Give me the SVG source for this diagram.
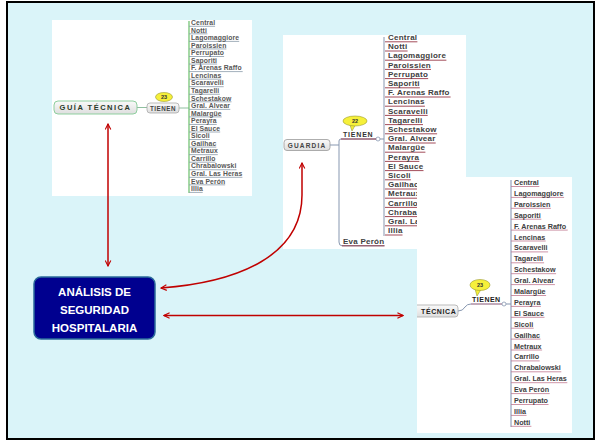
<svg xmlns="http://www.w3.org/2000/svg" width="597" height="442" viewBox="0 0 597 442">
<style>
text{font-family:"Liberation Sans",Arial,sans-serif;font-weight:bold}
.l1{font-size:6.8px;fill:#585858;letter-spacing:0.1px}
.l2{font-size:8px;fill:#404040;letter-spacing:0.25px}
.l3{font-size:7.2px;fill:#404040}
.arrow{fill:none;stroke:#c00000;stroke-width:1.5}
.card{fill:#fff}
.bub{fill:#f6f03a;stroke:#9a9a30;stroke-width:0.6}
.bubt{font-size:5.5px;fill:#333;text-anchor:middle}
.main{font-size:11.5px;fill:#fff;text-anchor:middle}
</style>
<defs>
<marker id="ah" viewBox="0 0 10 10" refX="9" refY="5" markerWidth="7" markerHeight="7" markerUnits="userSpaceOnUse" orient="auto-start-reverse">
<path d="M1,1 L9,5 L1,9" fill="none" stroke="#c00000" stroke-width="1.6"/>
</marker>
<linearGradient id="gb" x1="0" y1="0" x2="0" y2="1"><stop offset="0" stop-color="#fafafa"/><stop offset="1" stop-color="#dedede"/></linearGradient>
</defs>
<rect x="0" y="0" width="597" height="442" fill="#fff"/>
<rect id="frame" x="7" y="2" width="587" height="437" fill="#daf4f9" stroke="#000" stroke-width="2"/>

<g id="guia-tecnica">
<rect class="card" x="52" y="20" width="200" height="176"/>
<rect x="54" y="101" width="83" height="13" rx="4" fill="url(#gb)" stroke="#8fcf9f" stroke-width="1"/>
<text x="95.5" y="110.3" font-size="7.5" letter-spacing="1.5" text-anchor="middle" fill="#2a3a2a">GUÍA TÉCNICA</text>
<path d="M137,107.5 H147 M179,108 H189" stroke="#8fbf9f" stroke-width="1" fill="none"/>
<rect x="147" y="103" width="32" height="10" rx="3" fill="url(#gb)" stroke="#aaa" stroke-width="0.8"/>
<text x="163" y="110.5" font-size="6.3" letter-spacing="0.5" text-anchor="middle" fill="#444">TIENEN</text>
<ellipse class="bub" cx="164" cy="97" rx="8.5" ry="4.5"/>
<text class="bubt" x="164" y="99">23</text>
<path d="M189,21 V193" stroke="#6abf6a" stroke-width="1.2"/>
<path fill="none" stroke="#8a9aaa" stroke-width="0.8" d="M189,26.3H215.1 M189,33.85H207.4 M189,41.4H239.2 M189,48.95H226.4 M189,56.5H224.1 M189,64.05H217.1 M189,71.6H242.7 M189,79.15H221.3 M189,86.7H223.7 M189,94.25H219.8 M189,101.8H231.5 M189,109.35H230.3 M189,116.9H221.7 M189,124.45H216.7 M189,132H220.2 M189,139.55H209.7 M189,147.1H216.3 M189,154.65H217.8 M189,162.2H215.5 M189,169.75H236.5 M189,177.3H242.4 M189,184.85H225.2 M189,192.4H202.7"/>
<text class="l1" x="191">
<tspan x="191" y="25">Central</tspan><tspan x="191" y="32.55">Notti</tspan><tspan x="191" y="40.1">Lagomaggiore</tspan><tspan x="191" y="47.65">Paroissien</tspan><tspan x="191" y="55.2">Perrupato</tspan><tspan x="191" y="62.75">Saporiti</tspan><tspan x="191" y="70.3">F. Arenas Raffo</tspan><tspan x="191" y="77.85">Lencinas</tspan><tspan x="191" y="85.4">Scaravelli</tspan><tspan x="191" y="92.95">Tagarelli</tspan><tspan x="191" y="100.5">Schestakow</tspan><tspan x="191" y="108.05">Gral. Alvear</tspan><tspan x="191" y="115.6">Malargüe</tspan><tspan x="191" y="123.15">Perayra</tspan><tspan x="191" y="130.7">El Sauce</tspan><tspan x="191" y="138.25">Sicoli</tspan><tspan x="191" y="145.8">Gailhac</tspan><tspan x="191" y="153.35">Metraux</tspan><tspan x="191" y="160.9">Carrillo</tspan><tspan x="191" y="168.45">Chrabalowski</tspan><tspan x="191" y="176">Gral. Las Heras</tspan><tspan x="191" y="183.55">Eva Perón</tspan><tspan x="191" y="191.1">Illia</tspan>
</text>
</g>

<g id="guardia">
<rect class="card" x="283" y="35" width="183" height="214"/>
<rect x="284" y="139.5" width="46" height="11" rx="3" fill="url(#gb)" stroke="#999" stroke-width="0.8"/>
<text x="307" y="147.6" font-size="6.5" letter-spacing="1.2" text-anchor="middle" fill="#444">GUARDIA</text>
<path d="M330,145 H339 M339,145 V141 Q339,139 341,139 H376 M339,145 V242 Q339,245.8 342,245.8 H384.5 M380,139 H384" fill="none" stroke="#8797b0" stroke-width="1"/>
<circle cx="378" cy="139" r="2" fill="#fff" stroke="#8797b0" stroke-width="0.8"/>
<path d="M341,139 H376 M342,245.8 H384.5" stroke="#8b2030" stroke-width="0.8"/>
<text x="343" y="137" font-size="7" letter-spacing="0.8" fill="#333">TIENEN</text>
<path d="M350,125 L352,131 L355,125.5 Z" class="bub"/>
<ellipse class="bub" cx="355" cy="121" rx="12" ry="5"/>
<text class="bubt" x="355" y="123.2" font-size="6">22</text>
<path d="M384,37 V236" stroke="#8797b0" stroke-width="1"/>
<path fill="none" stroke="#8b2030" stroke-width="0.8" d="M385,41.8H417.4 M385,51H407.6 M385,60.2H446.4 M385,69.4H431 M385,78.6H428.2 M385,87.8H419.8 M385,97H450.6 M385,106.2H424.9 M385,115.4H427.7 M385,124.6H423 M385,133.8H437.1 M385,143H435.7 M385,152.2H425.4 M385,161.4H419.3 M385,170.6H423.5 M385,179.8H410.9 M385,189H418.8 M385,198.2H420.7 M385,207.4H417.9 M385,216.6H443.1 M385,225.8H450.1 M385,235H402.5"/>
<text class="l2">
<tspan x="388" y="40">Central</tspan><tspan x="388" y="49.2">Notti</tspan><tspan x="388" y="58.4">Lagomaggiore</tspan><tspan x="388" y="67.6">Paroissien</tspan><tspan x="388" y="76.8">Perrupato</tspan><tspan x="388" y="86">Saporiti</tspan><tspan x="388" y="95.2">F. Arenas Raffo</tspan><tspan x="388" y="104.4">Lencinas</tspan><tspan x="388" y="113.6">Scaravelli</tspan><tspan x="388" y="122.8">Tagarelli</tspan><tspan x="388" y="132">Schestakow</tspan><tspan x="388" y="141.2">Gral. Alvear</tspan><tspan x="388" y="150.4">Malargüe</tspan><tspan x="388" y="159.6">Perayra</tspan><tspan x="388" y="168.8">El Sauce</tspan><tspan x="388" y="178">Sicoli</tspan><tspan x="388" y="187.2">Gailhac</tspan><tspan x="388" y="196.4">Metraux</tspan><tspan x="388" y="205.6">Carrillo</tspan><tspan x="388" y="214.8">Chrabalowski</tspan><tspan x="388" y="224">Gral. Las Heras</tspan><tspan x="388" y="233.2">Illia</tspan>
</text>
<text class="l2" x="343" y="244">Eva Perón</text>
</g>

<g id="tecnica">
<rect class="card" x="417" y="177" width="155" height="256"/>
<rect x="412" y="305" width="46" height="12" rx="3" fill="url(#gb)" stroke="#aaa" stroke-width="0.8"/>
<rect x="407" y="303" width="10" height="16" fill="#daf4f9"/>
<text x="421" y="313.8" font-size="7" letter-spacing="0.6" fill="#222">TÉCNICA</text>
<path d="M458,311 Q463,311 465,307 Q467,304 471,304 H502 M506,304 H511" fill="none" stroke="#8797b0" stroke-width="1"/>
<path d="M471,304 H502" stroke="#c07890" stroke-width="0.8"/>
<circle cx="504" cy="304" r="2" fill="#fff" stroke="#8797b0" stroke-width="0.8"/>
<text x="472" y="302" font-size="7" letter-spacing="0.5" fill="#222">TIENEN</text>
<path d="M475,289 L477,296 L481,289.5 Z" class="bub"/>
<ellipse class="bub" cx="480" cy="285" rx="10" ry="5.5"/>
<text class="bubt" x="480" y="287.2">23</text>
<path d="M511,180 V427" stroke="#7f8fb0" stroke-width="1"/>
<path fill="none" stroke="#c07890" stroke-width="0.8" d="M511,186.5H539.3 M511,197.4H564.1 M511,208.3H550.9 M511,219.2H541.3 M511,230.1H567.7 M511,241H545.7 M511,251.9H548.1 M511,262.8H544.1 M511,273.7H556.1 M511,284.6H554.9 M511,295.5H546.1 M511,306.4H540.9 M511,317.3H544.5 M511,328.2H533.7 M511,339.1H540.5 M511,350H542.1 M511,360.9H539.7 M511,371.8H561.3 M511,382.7H567.3 M511,393.6H549.7 M511,404.5H548.5 M511,415.4H526.5 M511,426.3H531.4"/>
<text class="l3">
<tspan x="514" y="185">Central</tspan><tspan x="514" y="195.9">Lagomaggiore</tspan><tspan x="514" y="206.8">Paroissien</tspan><tspan x="514" y="217.7">Saporiti</tspan><tspan x="514" y="228.6">F. Arenas Raffo</tspan><tspan x="514" y="239.5">Lencinas</tspan><tspan x="514" y="250.4">Scaravelli</tspan><tspan x="514" y="261.3">Tagarelli</tspan><tspan x="514" y="272.2">Schestakow</tspan><tspan x="514" y="283.1">Gral. Alvear</tspan><tspan x="514" y="294">Malargüe</tspan><tspan x="514" y="304.9">Perayra</tspan><tspan x="514" y="315.8">El Sauce</tspan><tspan x="514" y="326.7">Sicoli</tspan><tspan x="514" y="337.6">Gailhac</tspan><tspan x="514" y="348.5">Metraux</tspan><tspan x="514" y="359.4">Carrillo</tspan><tspan x="514" y="370.3">Chrabalowski</tspan><tspan x="514" y="381.2">Gral. Las Heras</tspan><tspan x="514" y="392.1">Eva Perón</tspan><tspan x="514" y="403">Perrupato</tspan><tspan x="514" y="413.9">Illia</tspan><tspan x="514" y="424.8">Notti</tspan>
</text>
</g>

<g id="analisis">
<rect x="34" y="277" width="121" height="62" rx="7" fill="#00008f" stroke="#2a6a9a" stroke-width="1.5"/>
<text class="main" x="94.5" y="296">ANÁLISIS DE</text>
<text class="main" x="94.5" y="314">SEGURIDAD</text>
<text class="main" x="94.5" y="332">HOSPITALARIA</text>
</g>

<g id="connectors">
<path class="arrow" d="M108,124 V266" marker-start="url(#ah)" marker-end="url(#ah)"/>
<path class="arrow" d="M302,163 L302,195 C302,255 240,282 161,288" marker-start="url(#ah)" marker-end="url(#ah)"/>
<path class="arrow" d="M164,315.5 H403" marker-start="url(#ah)" marker-end="url(#ah)"/>
</g>
</svg>
